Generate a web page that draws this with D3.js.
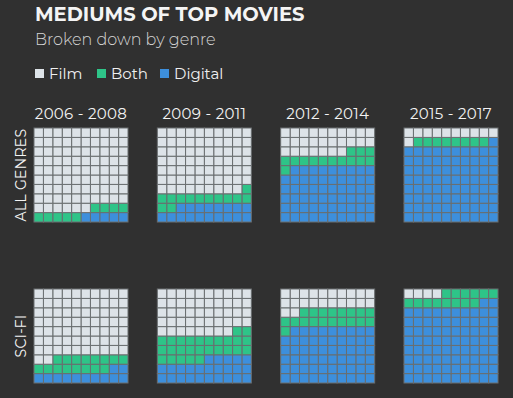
<!DOCTYPE html>
<html>
<head>
<meta charset="utf-8">
<script src="https://cdn.jsdelivr.net/npm/d3@7"></script>
<style>
  html, body { margin: 0; padding: 0; background: #303030; }
  svg { display: block; }
</style>
</head>
<body>
<div id="chart"></div>
<script>
// data
const periods = ["2006 - 2008", "2009 - 2011", "2012 - 2014", "2015 - 2017"];
const genres = ["ALL GENRES", "SCI-FI"];
const mediums = ["Film", "Both", "Digital"];
// counts out of 100, one per period
const digitalAll = [5, 18, 59, 81];
const bothAll = [9, 13, 14, 8];
const digitalSciFi = [12, 25, 59, 82];
const bothSciFi = [16, 27, 19, 14];

const colors = { Film: "#dde3e8", Both: "#2ec488", Digital: "#3d8fdc" };

const width = 513, height = 398;
const svg = d3.select("#chart").append("svg").attr("width", width).attr("height", height);
const font = "Montserrat, 'Open Sans', sans-serif";

svg.append("text").attr("x", 35).attr("y", 21)
  .text("MEDIUMS OF TOP MOVIES")
  .attr("font-family", font).attr("font-weight", 700).attr("font-size", 19.5)
  .attr("fill", "#f4f4f4");
svg.append("text").attr("x", 35).attr("y", 45)
  .text("Broken down by genre")
  .attr("font-family", font).attr("font-weight", 300).attr("font-size", 16)
  .attr("fill", "#d6d6d6");

// legend
const legendX = d3.scaleOrdinal().domain(mediums).range([35, 97, 160]);
const lg = svg.append("g").selectAll("g").data(mediums).join("g")
  .attr("transform", d => `translate(${legendX(d)},68)`);
lg.append("rect").attr("width", 9).attr("height", 9).attr("y", 1)
  .attr("fill", d => colors[d]);
lg.append("text").attr("x", 14).attr("y", 10.5).text(d => d)
  .attr("font-family", font).attr("font-size", 15).attr("fill", "#f0f0f0");

// layout scales
const panelSize = 94;
const col = d3.scalePoint().domain(periods).range([34, 404]);
const rowY = d3.scalePoint().domain(genres).range([128, 289]);
const cell = d3.scaleBand().domain(d3.range(10)).range([0, panelSize]);

svg.append("g").selectAll("text").data(periods).join("text")
  .attr("x", d => col(d) + panelSize / 2).attr("y", 119)
  .attr("text-anchor", "middle").text(d => d)
  .attr("font-family", font).attr("font-size", 15).attr("fill", "#f4f4f4")
  .attr("letter-spacing", 0.3);

svg.append("g").selectAll("text").data(genres).join("text")
  .attr("transform", d => `translate(26,${rowY(d) + panelSize / 2}) rotate(-90)`)
  .attr("text-anchor", "middle").text(d => d)
  .attr("font-family", font).attr("font-size", 14).attr("fill", "#f4f4f4")
  .attr("letter-spacing", 0.3);

const panels = [];
genres.forEach((g, gi) => {
  const dig = gi === 0 ? digitalAll : digitalSciFi;
  const both = gi === 0 ? bothAll : bothSciFi;
  periods.forEach((p, pi) => {
    const cells = d3.range(100).map(i => ({
      i,
      medium: i < dig[pi] ? "Digital" : i < dig[pi] + both[pi] ? "Both" : "Film"
    }));
    panels.push({ genre: g, period: p, cells });
  });
});

const pg = svg.append("g").selectAll("g").data(panels).join("g")
  .attr("transform", d => `translate(${col(d.period)},${rowY(d.genre)})`);

pg.selectAll("rect").data(d => d.cells).join("rect")
  .attr("x", d => cell(9 - d.i % 10))
  .attr("y", d => cell(9 - Math.floor(d.i / 10)))
  .attr("width", cell.bandwidth())
  .attr("height", cell.bandwidth())
  .attr("fill", d => colors[d.medium])
  .attr("stroke", "#6a6e70")
  .attr("stroke-width", 1);
</script>
</body>
</html>
